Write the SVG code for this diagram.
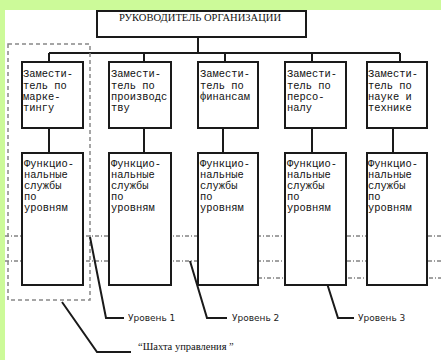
<svg xmlns="http://www.w3.org/2000/svg" width="441" height="360" viewBox="0 0 441 360">
<style>
.box{fill:#fff;stroke:#1a1a1a;stroke-width:2}
.ln{fill:none;stroke:#1a1a1a;stroke-width:2}
.dot{fill:none;stroke:#444;stroke-width:1;stroke-dasharray:4 2 1 2}
.dash{fill:none;stroke:#888;stroke-width:1.5;stroke-dasharray:4 3}
.mono{font-family:"Liberation Mono","Courier New",monospace;font-size:10.4px;fill:#111}
.head{font-family:"Liberation Serif","Times New Roman",serif;font-size:9.5px;fill:#111}
.lvl{font-family:"DejaVu Sans",Verdana,sans-serif;font-size:9px;fill:#222}
.ser{font-family:"Liberation Serif","Times New Roman",serif;font-size:10.5px;fill:#111}
</style>
<rect x="0" y="0" width="441" height="360" fill="#fff"/>
<rect x="0" y="0" width="441" height="10" fill="#ccfa99"/>
<rect x="0" y="0" width="5" height="360" fill="#ccfa99"/>

<g id="connectors">
<path class="ln" d="M198 37V53M49 53H400M49 53V62M144 53V62M225 53V62M312 53V62M400 53V62"/>
<path class="ln" d="M49 128V153M144 128V153M223 128V153M312 128V153M393 128V153"/>
<path class="dot" d="M5 236H441M5 261H441M222 278H441"/>
<path class="dash" d="M8 44H90V300H8Z"/>
<path class="ln" stroke-width="1.5" d="M90 237L106 318H124"/>
<path class="ln" stroke-width="1.5" d="M190 261L207 318H227"/>
<path class="ln" stroke-width="1.5" d="M325 277L338 318H354"/>
<path class="ln" stroke-width="1.5" d="M62 302L97 352H131"/>
</g>

<g id="head"><rect class="box" x="97" y="11" width="209" height="26"/>
<text class="head" x="119" y="21" textLength="162" lengthAdjust="spacingAndGlyphs">РУКОВОДИТЕЛЬ ОРГАНИЗАЦИИ</text></g>

<g id="dep1"><rect class="box" x="22" y="62" width="61" height="66"/>
<text class="mono"><tspan x="23" y="77">Замести-</tspan><tspan x="23" y="89">тель по</tspan><tspan x="23" y="100">марке-</tspan><tspan x="23" y="111">тингу</tspan></text></g>
<g id="dep2"><rect class="box" x="109" y="62" width="62" height="66"/>
<text class="mono"><tspan x="111" y="77">Замести-</tspan><tspan x="111" y="89">тель по</tspan><tspan x="111" y="100">производс</tspan><tspan x="111" y="111">тву</tspan></text></g>
<g id="dep3"><rect class="box" x="198" y="62" width="60" height="66"/>
<text class="mono"><tspan x="200" y="77">Замести-</tspan><tspan x="200" y="89">тель по</tspan><tspan x="200" y="100">финансам</tspan></text></g>
<g id="dep4"><rect class="box" x="285" y="62" width="61" height="66"/>
<text class="mono"><tspan x="287" y="77">Замести-</tspan><tspan x="287" y="89">тель по</tspan><tspan x="287" y="100">персо-</tspan><tspan x="287" y="111">налу</tspan></text></g>
<g id="dep5"><rect class="box" x="367" y="62" width="60" height="66"/>
<text class="mono"><tspan x="368" y="77">Замести-</tspan><tspan x="368" y="89">тель по</tspan><tspan x="368" y="100">науке и</tspan><tspan x="368" y="111">технике</tspan></text></g>

<g id="fun1"><rect class="box" x="22" y="153" width="61" height="132"/>
<text class="mono"><tspan x="24" y="167">Функцио-</tspan><tspan x="24" y="178">нальные</tspan><tspan x="24" y="189">службы</tspan><tspan x="24" y="200">по</tspan><tspan x="24" y="211">уровням</tspan></text></g>
<g id="fun2"><rect class="box" x="109" y="153" width="62" height="132"/>
<text class="mono"><tspan x="111" y="167">Функцио-</tspan><tspan x="111" y="178">нальные</tspan><tspan x="111" y="189">службы</tspan><tspan x="111" y="200">по</tspan><tspan x="111" y="211">уровням</tspan></text></g>
<g id="fun3"><rect class="box" x="198" y="153" width="60" height="132"/>
<text class="mono"><tspan x="200" y="167">Функцио-</tspan><tspan x="200" y="178">нальные</tspan><tspan x="200" y="189">службы</tspan><tspan x="200" y="200">по</tspan><tspan x="200" y="211">уровням</tspan></text></g>
<g id="fun4"><rect class="box" x="285" y="153" width="61" height="132"/>
<text class="mono"><tspan x="287" y="167">Функцио-</tspan><tspan x="287" y="178">нальные</tspan><tspan x="287" y="189">службы</tspan><tspan x="287" y="200">по</tspan><tspan x="287" y="211">уровням</tspan></text></g>
<g id="fun5"><rect class="box" x="367" y="153" width="60" height="132"/>
<text class="mono"><tspan x="368" y="167">Функцио-</tspan><tspan x="368" y="178">нальные</tspan><tspan x="368" y="189">службы</tspan><tspan x="368" y="200">по</tspan><tspan x="368" y="211">уровням</tspan></text></g>

<g id="labels">
<text class="lvl" x="128" y="321">Уровень 1</text>
<text class="lvl" x="232" y="321">Уровень 2</text>
<text class="lvl" x="358" y="321">Уровень 3</text>
<text class="ser" x="138" y="350">“Шахта управления ”</text>
</g>
</svg>
